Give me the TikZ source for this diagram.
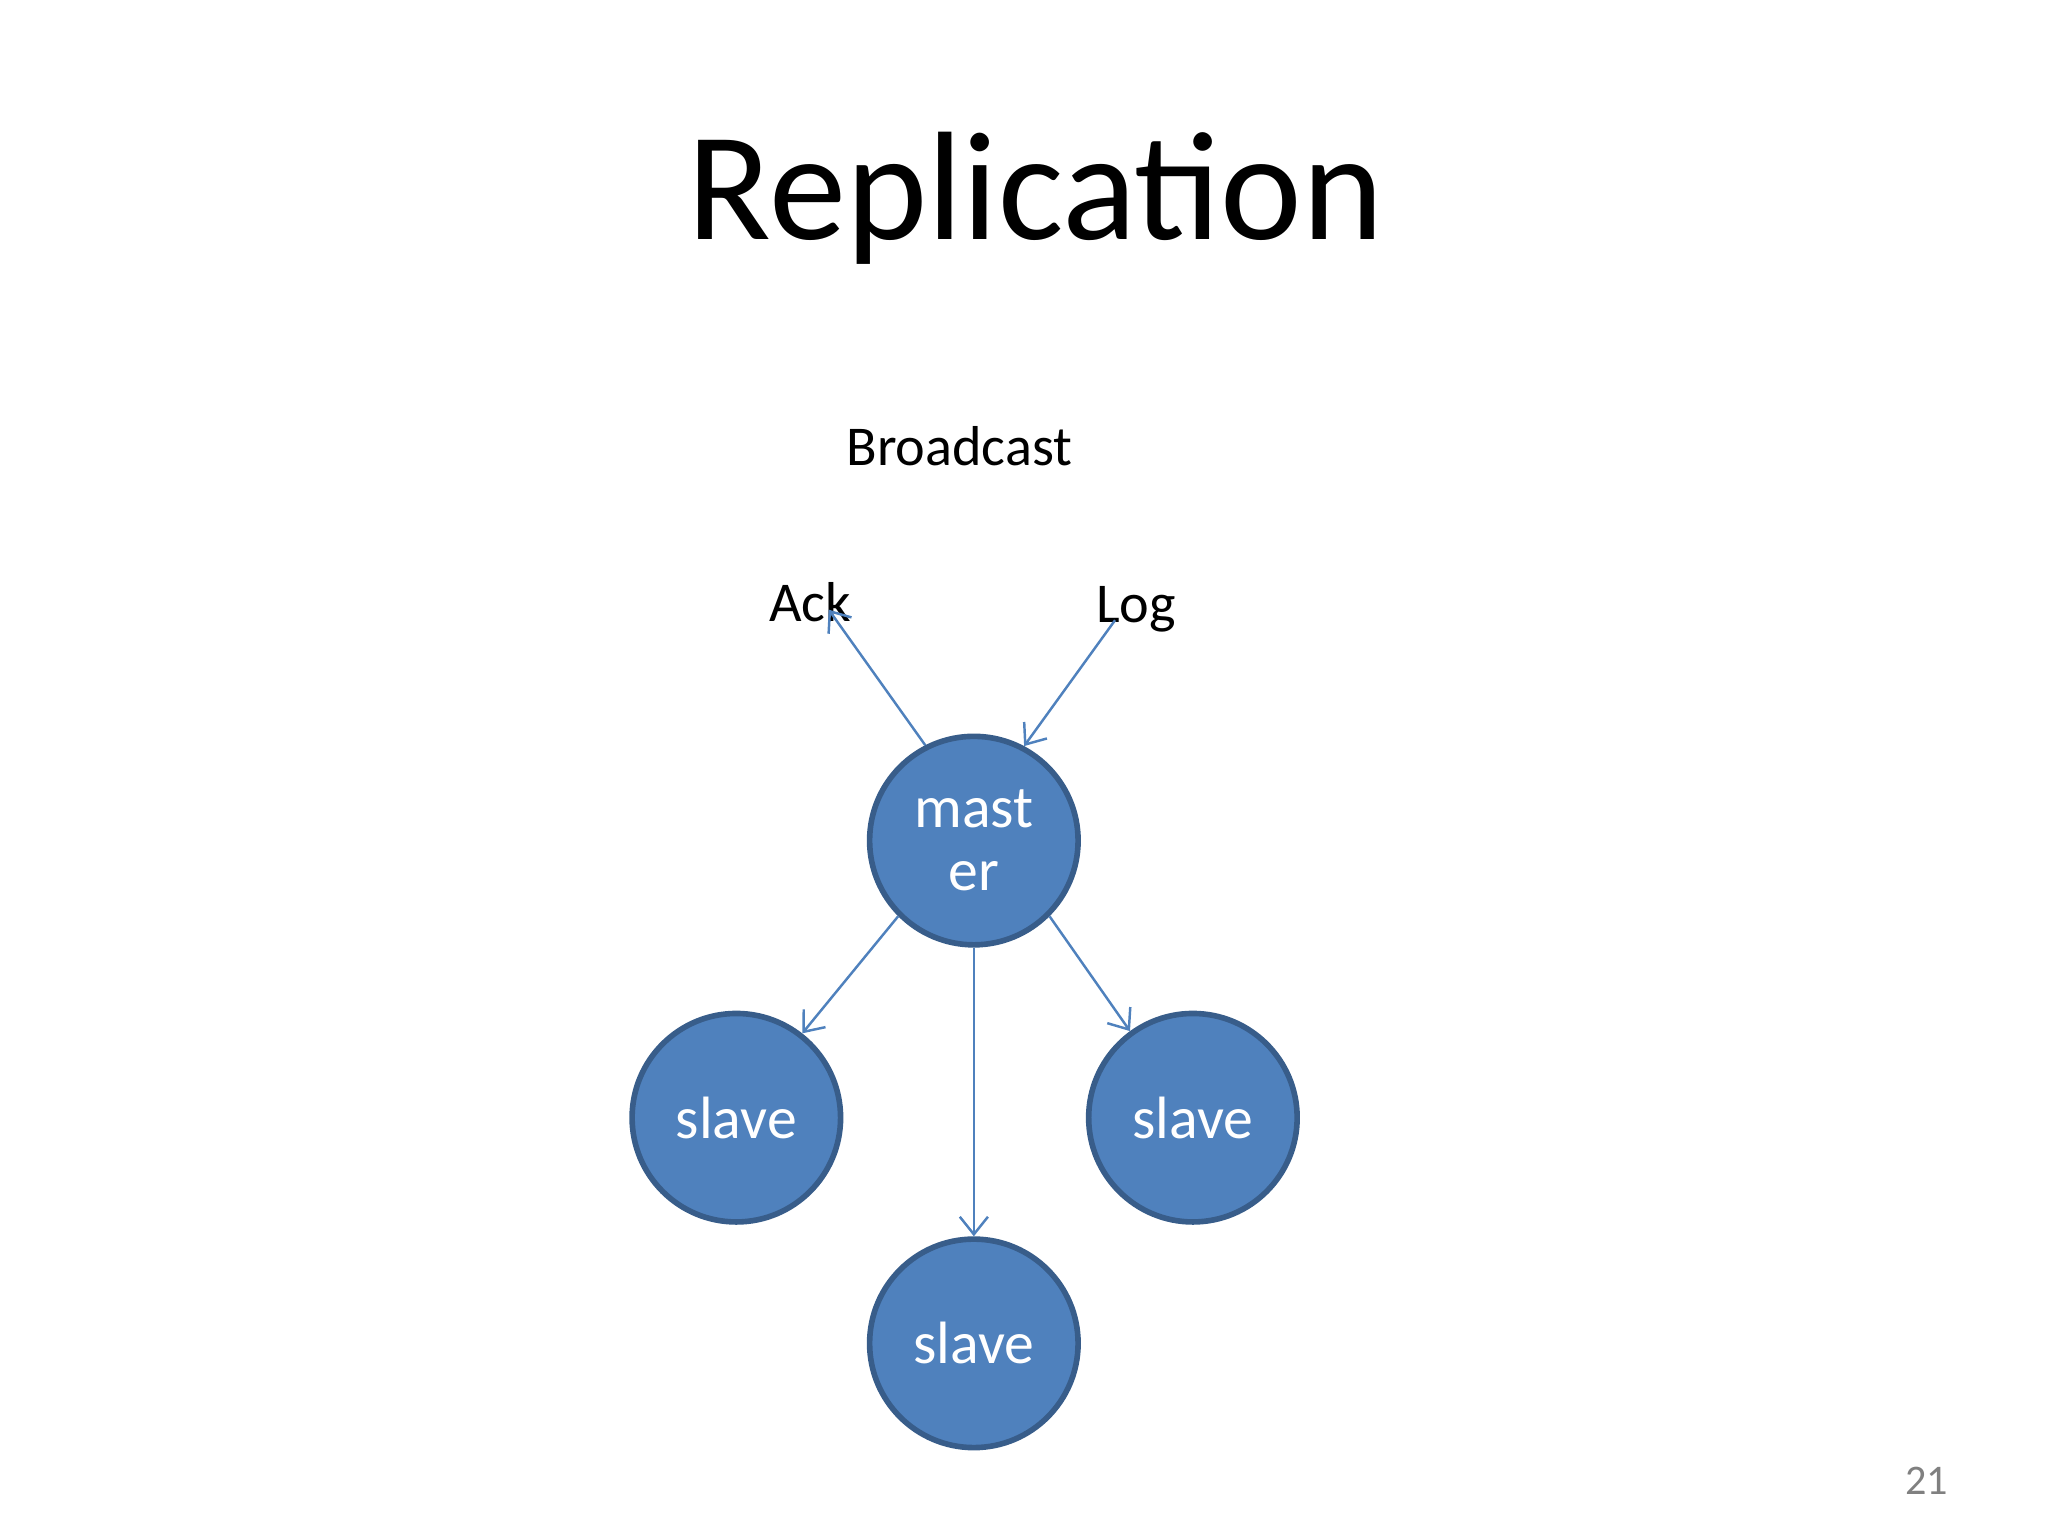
\documentclass[tikz,border=0pt]{standalone}
\usepackage{fontspec}
\setmainfont{Carlito}
\usetikzlibrary{arrows.meta}
\definecolor{nodefill}{HTML}{4F81BD}
\definecolor{nodeline}{HTML}{385D8A}
\begin{document}
\begin{tikzpicture}[x=0.013196cm,y=-0.013196cm,
  node circ/.style={circle,fill=nodefill,draw=nodeline,line width=1.6pt,minimum size=158*0.013196cm,inner sep=0pt,text=white,font=\fontsize{17}{20}\selectfont,align=center},
  conn/.style={draw=nodefill,line width=0.7pt,-{Straight Barb[length=5pt,width=8pt]}},
  lbl/.style={font=\fontsize{16}{19}\selectfont,inner sep=0pt}]
\useasboundingbox (0,0) rectangle (1552,1164);
\node[font=\fontsize{44}{50}\selectfont] (title) at (785,150) {Replication};
\node[lbl] (bc) at (727,338) {Broadcast};
\node[lbl] (ack) at (614,456) {Ack};
\node[lbl] (log) at (861,462) {Log};
\node[node circ] (m) at (738,637) {mast\\[-2pt]er};
\node[node circ] (s1) at (558,847) {slave};
\node[node circ] (s2) at (904,847) {slave};
\node[node circ] (s3) at (738,1018) {slave};
\node[font=\fontsize{12}{14}\selectfont,text=gray] (pg) at (1460,1122) {21};
\coordinate (ackend) at (628,462);
\coordinate (logstart) at (845,470);
\draw[conn] (m.117) -- (ackend);
\draw[conn] (logstart) -- (m.62);
\draw[conn] (m.225) -- (s1.52);
\draw[conn] (m.south) -- (s3.north);
\draw[conn] (m.315) -- (s2.126);
\end{tikzpicture}
\end{document}
